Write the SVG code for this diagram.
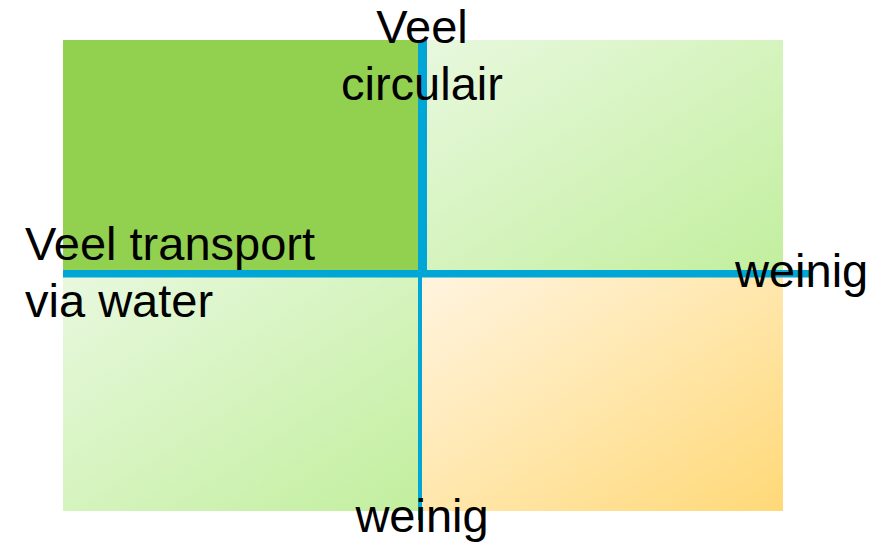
<svg xmlns="http://www.w3.org/2000/svg" width="887" height="543" viewBox="0 0 887 543">
  <defs>
    <linearGradient id="gGreen" x1="0" y1="0" x2="1" y2="1">
      <stop offset="0" stop-color="#E8F8DE"/>
      <stop offset="1" stop-color="#C2EF9E"/>
    </linearGradient>
    <linearGradient id="gOrange" x1="0" y1="0" x2="1" y2="1">
      <stop offset="0" stop-color="#FFF4E0"/>
      <stop offset="1" stop-color="#FFD978"/>
    </linearGradient>
    <style>
      .axis { fill: #00A6D6; }
      .lbl { font-family: "Liberation Sans", Arial, sans-serif; font-size: 47px; fill: #000000; }
    </style>
  </defs>
  <rect width="887" height="543" fill="#FFFFFF"/>
  <g id="q-top-left"><rect x="63" y="40" width="356" height="230" fill="#92D050"/></g>
  <g id="q-top-right"><rect x="426" y="40" width="357" height="230" fill="url(#gGreen)"/></g>
  <g id="q-bottom-left"><rect x="63" y="277" width="355" height="234" fill="url(#gGreen)"/></g>
  <g id="q-bottom-right"><rect x="422" y="275" width="361" height="236" fill="url(#gOrange)"/></g>
  <g id="connectors">
    <rect class="axis" x="418" y="40" width="9" height="234"/>
    <rect class="axis" x="63" y="270" width="747" height="7.5"/>
    <rect class="axis" x="418" y="274" width="4" height="246"/>
  </g>
  <g id="label-top">
    <text class="lbl" x="422" y="43" text-anchor="middle">Veel</text>
    <text class="lbl" x="422" y="100" text-anchor="middle">circulair</text>
  </g>
  <g id="label-left">
    <text class="lbl" x="25" y="260">Veel transport</text>
    <text class="lbl" x="25" y="317">via water</text>
  </g>
  <g id="label-right">
    <text class="lbl" x="735" y="287">weinig</text>
  </g>
  <g id="label-bottom">
    <text class="lbl" x="422" y="532" text-anchor="middle">weinig</text>
  </g>
</svg>
